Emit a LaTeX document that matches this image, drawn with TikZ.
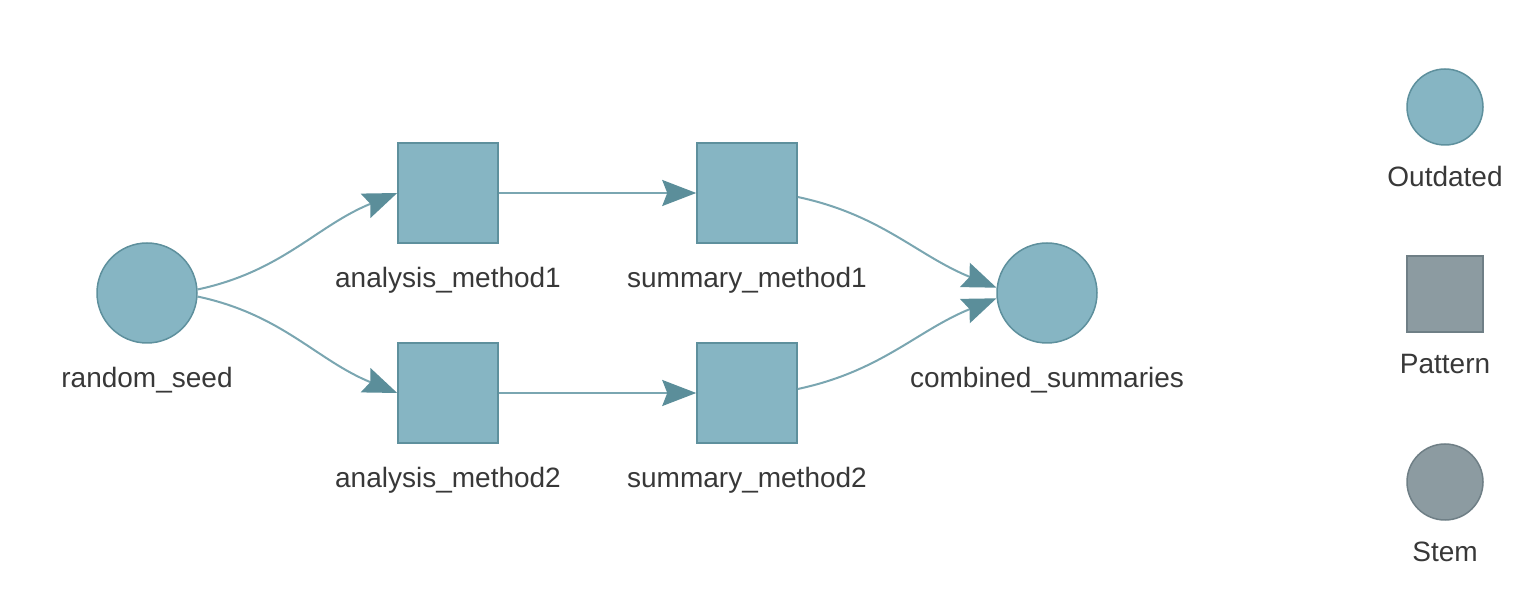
\documentclass[tikz,border=0pt]{standalone}
\usepackage{fontspec}
\setmainfont{Liberation Sans}
\usepackage{tikz}
\usetikzlibrary{arrows.meta,positioning}
\usepackage{xcolor}
\definecolor{outfill}{HTML}{86B5C3}
\definecolor{outline}{HTML}{5E909D}
\definecolor{stemfill}{HTML}{8C9BA1}
\definecolor{stemline}{HTML}{6F7F86}
\definecolor{edgec}{HTML}{7AA6B1}
\definecolor{tipc}{HTML}{5B8E9A}
\definecolor{txtc}{HTML}{383838}

\begin{document}
\begin{tikzpicture}[x=1pt,y=1pt,
  target/.style={circle,fill=outfill,draw=outline,line width=1.5pt,minimum size=100pt,inner sep=0pt},
  pattern/.style={rectangle,fill=outfill,draw=outline,line width=1.5pt,minimum size=100pt,inner sep=0pt},
  lbl/.style={text=txtc,font=\fontsize{28}{34}\selectfont,inner sep=0pt,anchor=base},
  edge/.style={draw=edgec,line width=2pt,-{Stealth[length=34pt,width=26pt,inset=5pt,color=tipc]}}]
\useasboundingbox (0,0) rectangle (1540,600);
%%%TARGETS
\node[target] (seed) at (147,307) {};
\node[pattern] (am1) at (448,407) {};
\node[pattern] (am2) at (448,207) {};
\node[pattern] (sm1) at (747,407) {};
\node[pattern] (sm2) at (747,207) {};
\node[target] (comb) at (1047,307) {};
%%%LABELS
\node[lbl, below=44pt of seed.south, anchor=base] {random\_seed};
\node[lbl, below=44pt of am1.south, anchor=base] {analysis\_method1};
\node[lbl, below=44pt of am2.south, anchor=base] {analysis\_method2};
\node[lbl, below=44pt of sm1.south, anchor=base] {summary\_method1};
\node[lbl, below=44pt of sm2.south, anchor=base] {summary\_method2};
\node[lbl, below=44pt of comb.south, anchor=base] {combined\_summaries};
%%%LEGEND
\node[target, minimum size=76pt] (outdated) at (1445,493) {};
\node[pattern, minimum size=76pt, fill=stemfill, draw=stemline] (patt) at (1445,306) {};
\node[target, minimum size=76pt, fill=stemfill, draw=stemline] (stem) at (1445,118) {};
\node[lbl, below=41pt of outdated.south, anchor=base] {Outdated};
\node[lbl, below=41pt of patt.south, anchor=base] {Pattern};
\node[lbl, below=41pt of stem.south, anchor=base] {Stem};
%%%DEPENDENCIES
\draw[edge] (seed.4) to[out=12, in=202] (am1.west);
\draw[edge] (seed.-4) to[out=-12, in=158] (am2.west);
\draw[edge] (am1.east) -- (sm1.west);
\draw[edge] (am2.east) -- (sm2.west);
\draw[edge] ([yshift=-4pt]sm1.east) to[out=-12, in=158] (comb.174);
\draw[edge] ([yshift=4pt]sm2.east) to[out=12, in=202] (comb.186);
\end{tikzpicture}
\end{document}
